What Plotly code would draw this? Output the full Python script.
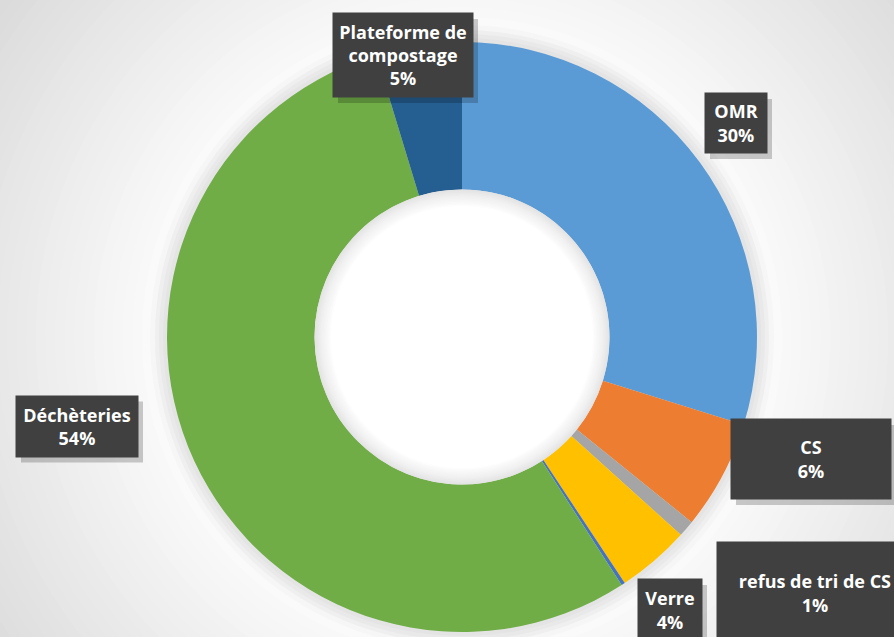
import plotly.graph_objects as go

# data (clockwise from 12 o'clock)
categories = ["OMR", "CS", "refus de tri de CS", "Verre", "Autres", "Déchèteries", "Plateforme de compostage"]
values = [29.8, 6.0, 0.9, 4.0, 0.2, 54.4, 4.7]
colors = ["#5B9BD5", "#ED7D31", "#A5A5A5", "#FFC000", "#4472C4", "#70AD47", "#255E91"]
box_text = ["OMR", "CS", "refus de tri de CS", "Verre", None, "Déchèteries", "Plateforme de<br>compostage"]

W, H = 894, 637
CX, CY, R = 462, 337, 295
total = sum(values)
pct = [round(v / total * 100) for v in values]

fig = go.Figure()
fig.add_trace(go.Pie(
    labels=categories, values=values, sort=False, direction="clockwise",
    hole=0.5, marker=dict(colors=colors, line=dict(width=0)),
    textinfo="none", hoverinfo="label+percent", showlegend=False,
    domain=dict(x=[(CX - R) / W, (CX + R) / W], y=[(H - CY - R) / H, (H - CY + R) / H]),
))


def ring(r, grey, layer="below"):
    return dict(type="circle", xref="paper", yref="paper", layer=layer,
                x0=(CX - r) / W, x1=(CX + r) / W, y0=1 - (CY + r) / H, y1=1 - (CY - r) / H,
                fillcolor=f"rgb({grey},{grey},{grey})", line=dict(width=0))


# radial grey background, light near the donut, darker towards the corners
shapes = []
steps = 30
for i in range(steps):
    t = i / (steps - 1)
    r = 600 - t * (600 - 320)
    g = int(216 + (250 - 216) * t)
    shapes.append(ring(r, g))
# soft shadow just outside the donut
for r, g in [(312, 246), (307, 239), (303, 233), (299, 228)]:
    shapes.append(ring(r, g))
# soft shadow inside the hole
hole_r = 147.5
for i in range(12):
    g = int(228 + (255 - 228) * (i / 11) ** 0.8)
    shapes.append(ring(hole_r - i * 1.5, g, layer="above"))

# label boxes: centre x, centre y, width, height (pixels)
box_pos = {
    "OMR": (736, 123, 62, 60),
    "CS": (811, 459, 160, 80),
    "refus de tri de CS": (815, 593, 196, 102),
    "Verre": (670, 610, 64, 62),
    "Déchèteries": (77, 426, 122, 61),
    "Plateforme de compostage": (403, 55, 140, 84),
}

annotations = []
for name, txt, p in zip(categories, box_text, pct):
    if txt is None:
        continue
    cx, cy, bw, bh = box_pos[name]
    # drop shadow behind the box
    shapes.append(dict(type="rect", xref="paper", yref="paper", layer="above",
                       x0=(cx - bw / 2 + 5) / W, x1=(cx + bw / 2 + 5) / W,
                       y0=1 - (cy + bh / 2 + 6) / H, y1=1 - (cy - bh / 2 + 6) / H,
                       fillcolor="rgba(0,0,0,0.2)", line=dict(width=0)))
    annotations.append(dict(
        text=f"<b>{txt}<br>{p}%</b>", x=cx / W, y=1 - cy / H, xref="paper", yref="paper",
        xanchor="center", yanchor="middle", showarrow=False, width=bw, height=bh,
        bgcolor="#404040", borderpad=0, align="center", valign="middle",
        font=dict(family="Open Sans", size=18, color="white"),
    ))

fig.update_layout(
    width=W, height=H, margin=dict(l=0, r=0, t=0, b=0),
    paper_bgcolor="#d8d8d8", plot_bgcolor="#d8d8d8",
    shapes=shapes, annotations=annotations,
)
fig.write_html("out.html", config={"displayModeBar": False},
               post_script="document.body.style.margin='0';")
